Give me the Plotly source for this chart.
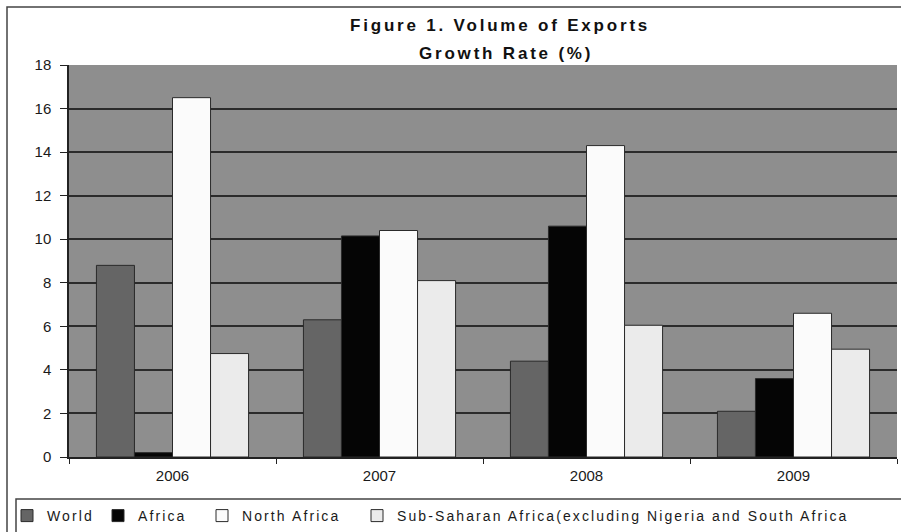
import plotly.graph_objects as go

years = ["2006", "2007", "2008", "2009"]
world = [8.8, 6.3, 4.4, 2.1]
africa = [0.2, 10.15, 10.6, 3.6]
north_africa = [16.5, 10.4, 14.3, 6.6]
ssa = [4.75, 8.1, 6.05, 4.95]

series_names = ["World", "Africa", "North Africa",
                "Sub-Saharan Africa(excluding Nigeria and South Africa"]
series_values = [world, africa, north_africa, ssa]
colors = ["#656565", "#050505", "#fbfbfb", "#ebebeb"]

FONT = "Arial, 'Liberation Sans', sans-serif"

def spaced(t, ls=2.2):
    return f'<span style="letter-spacing:{ls}px">{t}</span>'

L, T = 69, 65
W, H = 828, 392
def px(x):
    return (x - L) / W
def py(y):
    return (T + H - y) / H

legend_ids = ["legend", "legend2", "legend3", "legend4"]
legend_text_x = [47, 138, 242, 397]

fig = go.Figure()
for name, vals, col, lid in zip(series_names, series_values, colors, legend_ids):
    fig.add_trace(go.Bar(
        x=years, y=vals, name=spaced(name, 2.1), legend=lid,
        marker=dict(color=col, line=dict(color="#2a2a2a", width=1)),
    ))

legend_layout = {}
for lid, tx in zip(legend_ids, legend_text_x):
    legend_layout[lid] = dict(
        orientation="h",
        x=px(tx - 40), xanchor="left",
        y=py(516), yanchor="middle",
        font=dict(size=14, color="#1a1a1a"),
        bgcolor="rgba(0,0,0,0)",
        itemclick=False,
    )

fig.update_layout(
    width=901, height=532,
    margin=dict(l=L, r=901 - L - W, t=T, b=532 - T - H, autoexpand=False),
    paper_bgcolor="white",
    plot_bgcolor="#8e8e8e",
    barmode="group",
    bargap=0.265,
    bargroupgap=0,
    font=dict(family=FONT, color="#1a1a1a", size=14),
    showlegend=True,
    xaxis=dict(
        type="category",
        showline=True, linecolor="#222", linewidth=1.5,
        ticks="outside", tickson="boundaries", ticklen=5, tickcolor="#222",
        tickfont=dict(size=15, color="#1a1a1a"),
        ticklabelstandoff=4,
        showgrid=False, automargin=False,
    ),
    yaxis=dict(
        range=[0, 18], dtick=2,
        showline=True, linecolor="#222", linewidth=1.5,
        ticks="outside", ticklen=7, tickcolor="#222",
        tickfont=dict(size=15, color="#1a1a1a"),
        ticklabelstandoff=6,
        showgrid=True, gridcolor="#2b2b2b", gridwidth=1.8,
        zeroline=False, automargin=False,
    ),
    annotations=[
        dict(text="<b>" + spaced("Figure 1. Volume of Exports", 2.8) + "</b>",
             xref="paper", yref="paper", x=px(500), y=py(26),
             xanchor="center", yanchor="middle", showarrow=False,
             font=dict(size=17, color="#111")),
        dict(text="<b>" + spaced("Growth Rate (%)", 2.8) + "</b>",
             xref="paper", yref="paper", x=px(506), y=py(54),
             xanchor="center", yanchor="middle", showarrow=False,
             font=dict(size=17, color="#111")),
    ],
    shapes=[
        dict(type="rect", xref="paper", yref="paper",
             x0=px(7), x1=px(930), y0=py(7), y1=py(560),
             line=dict(color="#444", width=1.5), fillcolor="rgba(0,0,0,0)",
             layer="below"),
        dict(type="rect", xref="paper", yref="paper",
             x0=px(16), x1=px(930), y0=py(499), y1=py(560),
             line=dict(color="#444", width=1.5), fillcolor="rgba(0,0,0,0)",
             layer="below"),
    ],
    **legend_layout,
)

fig.write_html(
    "out.html",
    config={"displayModeBar": False},
    post_script="document.body.style.margin='0';document.body.style.overflow='hidden';",
)
